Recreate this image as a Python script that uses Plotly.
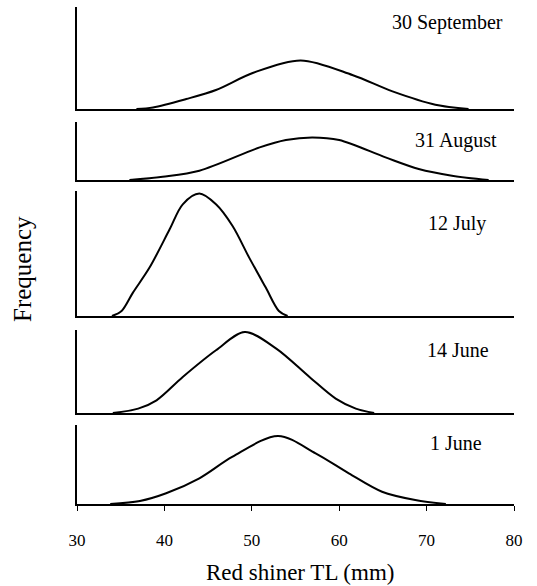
import plotly.graph_objects as go

# ---- data (frequency in arbitrary units) ----
sep30_tl = [36.8, 38.7, 42.5, 45.9, 50.1, 55.6, 61.5, 66.1, 71.0, 74.8]
sep30_freq = [0, 1.6, 10, 19, 36, 48.6, 34, 17.6, 4.3, 0]

aug31_tl = [36.0, 39.8, 44.0, 50.9, 53.9, 56.9, 60.0, 65.3, 69.1, 72.9, 77.1]
aug31_freq = [0, 3.3, 9.3, 32.6, 40, 42.6, 40, 22.6, 11, 4.3, 0]

jul12_tl = [34.0, 35.1, 36.4, 38.3, 40.6, 42.1, 44.0, 45.9, 47.8, 49.7, 51.6, 53.1, 54.1]
jul12_freq = [0, 5, 23.4, 48.4, 86.7, 111.7, 122.4, 111.7, 90, 58.4, 28.4, 5, 0]

jun14_tl = [34.1, 37.0, 39.1, 42.1, 45.9, 49.2, 52.8, 56.6, 59.6, 61.9, 64.0]
jun14_freq = [0, 4.4, 12.7, 36, 62.7, 81, 64.4, 36, 14.4, 4.4, 0]

jun1_tl = [33.8, 37.2, 40.2, 44.0, 47.8, 53.0, 57.3, 61.1, 64.9, 68.7, 72.2]
jun1_freq = [0, 3, 10.7, 25.7, 47.3, 68, 50.7, 30.7, 12.3, 4, 0]

panel_labels = ["30 September", "31 August", "12 July", "14 June", "1 June"]
panel_ymax = [102, 58, 125, 83, 79]

x_ticks = [30, 40, 50, 60, 70, 80]
x_title = "Red shiner TL (mm)"
y_title = "Frequency"

series = [
    (sep30_tl, sep30_freq),
    (aug31_tl, aug31_freq),
    (jul12_tl, jul12_freq),
    (jun14_tl, jun14_freq),
    (jun1_tl, jun1_freq),
]

# ---- layout (pixels) ----
W, H = 537, 586
ML, MR, MT, MB = 77, 23, 0, 82
plot_h = H - MT - MB
plot_w = W - ML - MR
panel_px = [(7, 109), (122, 180), (191, 316), (330, 413), (425, 504)]
label_px = [(390, 23), (413, 140), (426, 223), (425, 350), (428, 443)]

FONT = "Liberation Serif, Times New Roman, serif"


def yfrac(py):
    return (H - MB - py) / plot_h


def xfrac(px):
    return (px - ML) / plot_w


fig = go.Figure()
layout = dict(
    width=W, height=H,
    margin=dict(l=ML, r=MR, t=MT, b=MB),
    paper_bgcolor="white", plot_bgcolor="white",
    showlegend=False,
    font=dict(family=FONT, color="black"),
)

for i, ((xs, ys), (top, bot)) in enumerate(zip(series, panel_px)):
    n = "" if i == 0 else str(i + 1)
    fig.add_trace(go.Scatter(
        x=xs, y=ys, mode="lines",
        line=dict(color="black", width=2, shape="spline", smoothing=0.9),
        xaxis="x" + n, yaxis="y" + n, hoverinfo="skip",
    ))
    last = i == len(series) - 1
    xa = dict(
        range=[30, 80], domain=[0, 1], anchor="y" + n,
        showline=True, linecolor="black", linewidth=2,
        showgrid=False, zeroline=False,
        ticks="outside" if last else "", ticklen=5, tickwidth=1, tickcolor="black",
        showticklabels=last, tickvals=x_ticks,
        tickfont=dict(family=FONT, size=17, color="black"),
        ticklabelstandoff=15,
    )
    if i > 0:
        xa["matches"] = "x"
    ya = dict(
        range=[0, panel_ymax[i]], domain=[yfrac(bot), yfrac(top)], anchor="x" + n,
        showline=True, linecolor="black", linewidth=2,
        showgrid=False, zeroline=False, ticks="", showticklabels=False,
    )
    layout["xaxis" + n] = xa
    layout["yaxis" + n] = ya

annotations = []
for lab, (px, py) in zip(panel_labels, label_px):
    annotations.append(dict(
        text=lab, xref="paper", yref="paper", x=xfrac(px), y=yfrac(py),
        xanchor="left", yanchor="middle", showarrow=False,
        font=dict(family=FONT, size=20, color="black"),
    ))
annotations.append(dict(
    text=x_title, xref="paper", yref="paper", x=xfrac(300), y=yfrac(572),
    xanchor="center", yanchor="middle", showarrow=False,
    font=dict(family=FONT, size=23, color="black"),
))
annotations.append(dict(
    text=y_title, xref="paper", yref="paper", x=xfrac(22), y=yfrac(269),
    xanchor="center", yanchor="middle", showarrow=False, textangle=-90,
    font=dict(family=FONT, size=25, color="black"),
))
layout["annotations"] = annotations

fig.update_layout(**layout)
fig.write_html(
    "out.html",
    config={"displayModeBar": False},
    post_script="document.body.style.margin='0';document.body.style.padding='0';",
)
